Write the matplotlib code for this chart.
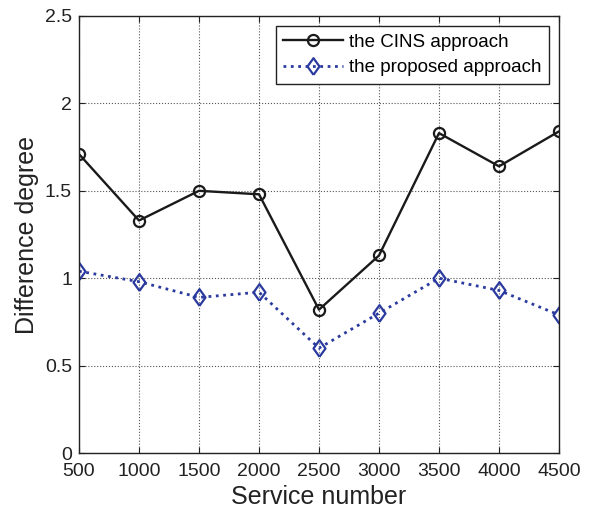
import matplotlib.pyplot as plt
import numpy as np

plt.rcParams['font.family'] = ['Liberation Sans', 'DejaVu Sans']

# data
services = [500, 1000, 1500, 2000, 2500, 3000, 3500, 4000, 4500]
cins = [1.71, 1.33, 1.50, 1.48, 0.82, 1.13, 1.83, 1.64, 1.84]
proposed = [1.04, 0.98, 0.89, 0.92, 0.60, 0.80, 1.00, 0.93, 0.79]
yticks = [0, 0.5, 1, 1.5, 2, 2.5]
ytick_labels = ['0', '0.5', '1', '1.5', '2', '2.5']

# slightly narrow diamond like the original
diamond = [(0, -1), (0.72, 0), (0, 1), (-0.72, 0), (0, -1)]


def main():
    fig = plt.figure(figsize=(5.9, 5.11), dpi=100)
    ax = fig.add_axes([79 / 590, 1 - 453 / 511, (559 - 79) / 590, (453 - 16) / 511])

    ax.plot(services, cins, color='#1a1a1a', lw=1.7, marker='o', ms=8,
            mfc='none', mew=1.6, label='the CINS approach')
    ax.plot(services, proposed, color='#2b3a9e', lw=2.0, ls=':', marker=diamond, ms=12,
            mfc='none', mew=1.6, label='the proposed approach')

    ax.set_xlim(500, 4500)
    ax.set_ylim(0, 2.5)
    ax.set_xticks(services)
    ax.set_yticks(yticks)
    ax.set_yticklabels(ytick_labels)
    ax.tick_params(direction='in', top=True, right=True, labelsize=14, length=4,
                   colors='#222222')
    ax.tick_params(axis='x', pad=7)
    ax.tick_params(axis='y', pad=5)
    ax.grid(True, ls=':', color='#555555', lw=0.8)
    for s in ax.spines.values():
        s.set_linewidth(1.0)
        s.set_color('#222222')

    ax.set_xlabel('Service number', fontsize=18, color='#222222', labelpad=4)
    ax.set_ylabel('Difference degree', fontsize=18, color='#222222', labelpad=4)

    leg = ax.legend(loc='upper right', fontsize=13.5, fancybox=False, framealpha=1,
                    edgecolor='#222222', borderpad=0.4, labelspacing=0.45,
                    handlelength=3.2, handletextpad=0.3, borderaxespad=0.55)
    leg.get_frame().set_linewidth(1.0)

    fig.savefig('out.png', dpi=100)


if __name__ == '__main__':
    main()
